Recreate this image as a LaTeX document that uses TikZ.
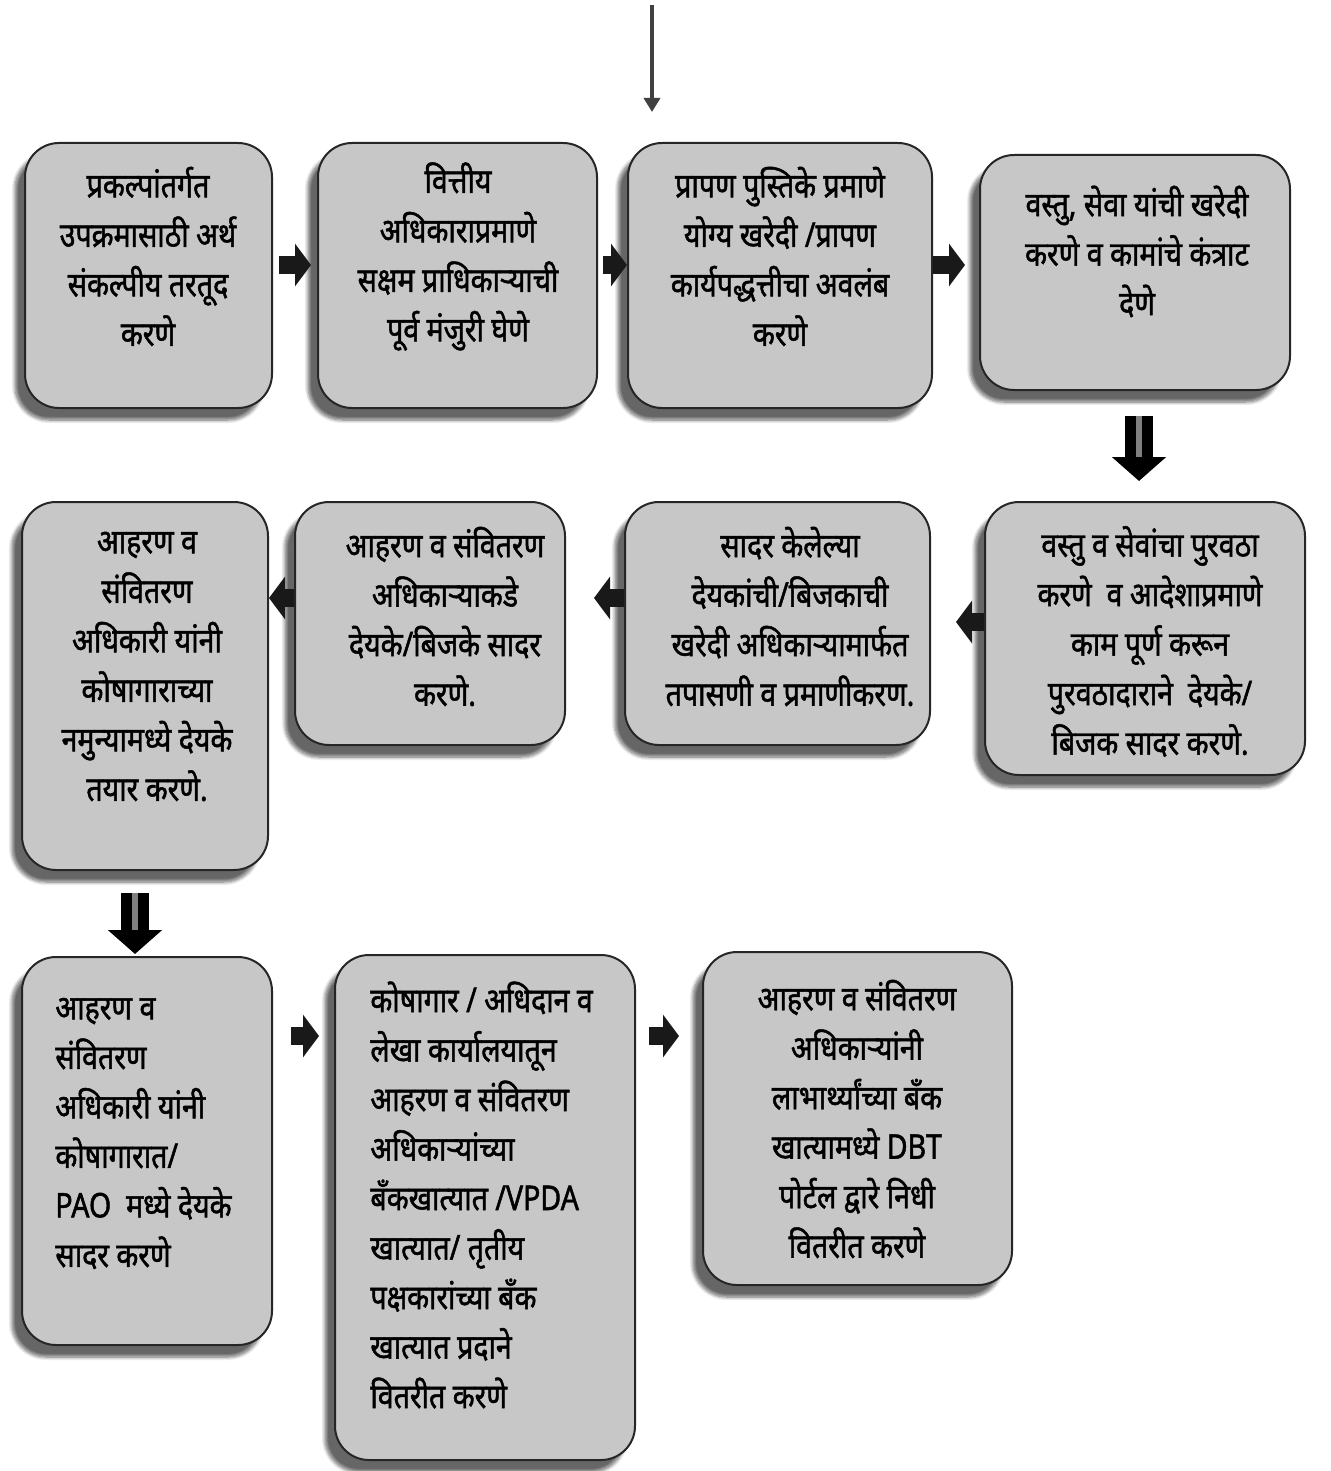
\documentclass[tikz,border=0pt]{standalone}
\usepackage{fontspec}
\newfontfamily\deva[Script=Devanagari,FakeStretch=0.84,FakeBold=1.4]{Noto Sans}
\usetikzlibrary{arrows.meta,shadows.blur}

\tikzset{
  stepbox/.style={draw=black!85, line width=1pt, fill=black!22, rounded corners=17pt, inner sep=0pt,
    blur shadow={shadow xshift=-5pt, shadow yshift=-6pt, shadow blur steps=8, shadow opacity=60}},
  steptext/.style={inner sep=0pt, align=center, font=\deva\fontsize{17}{24.75}\selectfont},
  harrow/.style={line width=9pt, draw=black!90, -{Triangle[width=21pt,length=8pt]}},
  varrow/.style={line width=5.5pt, draw=black, double=black!50, double distance=3pt, -{Triangle[width=26.5pt,length=12pt]}},
  inarrow/.style={line width=2pt, draw=black!75, -{Triangle[width=8pt,length=7pt]}}
}

\begin{document}
\begin{tikzpicture}[x=0.5pt, y=-0.5pt]
\useasboundingbox (0,0) rectangle (1330,1471);

\node[stepbox, minimum width=123.5pt, minimum height=132.5pt] (b1) at (148.5,275.5) {};
\node[stepbox, minimum width=139.5pt, minimum height=132.5pt] (b2) at (457.5,275.5) {};
\node[stepbox, minimum width=152pt, minimum height=132.5pt] (b3) at (780,275.5) {};
\node[stepbox, minimum width=155pt, minimum height=117.5pt] (b4) at (1135,272.5) {};
\node[stepbox, minimum width=160pt, minimum height=136.5pt] (b5) at (1145,638.5) {};
\node[stepbox, minimum width=152.5pt, minimum height=121.5pt] (b6) at (777.5,623.5) {};
\node[stepbox, minimum width=135pt, minimum height=121.5pt] (b7) at (430,623.5) {};
\node[stepbox, minimum width=123pt, minimum height=184pt] (b8) at (145,686) {};
\node[stepbox, minimum width=125pt, minimum height=194pt] (b9) at (147,1151) {};
\node[stepbox, minimum width=150pt, minimum height=252.5pt] (b10) at (485,1207.5) {};
\node[stepbox, minimum width=154.5pt, minimum height=166.5pt] (b11) at (857.5,1118.5) {};

\node[steptext] (t1) at (148,256.5) {प्रकल्पांतर्गत\\उपक्रमासाठी अर्थ\\संकल्पीय तरतूद\\करणे};
\node[steptext] (t2) at (458,256.5) {वित्तीय\\अधिकाराप्रमाणे\\सक्षम प्राधिकाऱ्याची\\पूर्व मंजुरी घेणे};
\node[steptext] (t3) at (780,256.5) {प्रापण पुस्तिके प्रमाणे\\योग्य खरेदी /प्रापण\\कार्यपद्धत्तीचा अवलंब\\करणे};
\node[steptext] (t4) at (1137,251.5) {वस्तु, सेवा यांची खरेदी\\करणे व कामांचे कंत्राट\\देणे};
\node[steptext] (t5) at (1150,641.5) {वस्तु व सेवांचा पुरवठा\\करणे\ \ व आदेशाप्रमाणे\\काम पूर्ण करून\\पुरवठादाराने\ \ देयके/\\बिजक सादर करणे.};
\node[steptext] (t6) at (790,616.5) {सादर केलेल्या\\देयकांची/बिजकाची\\खरेदी अधिकाऱ्यामार्फत\\तपासणी व प्रमाणीकरण.};
\node[steptext] (t7) at (445,616.5) {आहरण व संवितरण\\अधिकाऱ्याकडे\\देयके/बिजके सादर\\करणे.};
\node[steptext] (t8) at (147,666.5) {आहरण व\\संवितरण\\अधिकारी यांनी\\कोषागाराच्या\\नमुन्यामध्ये देयके\\तयार करणे.};
\node[steptext, align=left, anchor=west] (t9) at (55,1133.5) {आहरण व\\संवितरण\\अधिकारी यांनी\\कोषागारात/\\PAO\ \ मध्ये देयके\\सादर करणे};
\node[steptext, align=left, anchor=west] (t10) at (370,1195) {कोषागार / अधिदान व\\लेखा कार्यालयातून\\आहरण व संवितरण\\अधिकाऱ्यांच्या\\बँकखात्यात /VPDA\\खात्यात/ तृतीय\\पक्षकारांच्या बँक\\खात्यात प्रदाने\\वितरीत करणे};
\node[steptext] (t11) at (857,1119) {आहरण व संवितरण\\अधिकाऱ्यांनी\\लाभार्थ्यांच्या बँक\\खात्यामध्ये DBT\\पोर्टल द्वारे निधी\\वितरीत करणे};

\coordinate (topin) at (652,5);
\coordinate (topout) at (652,112);
\coordinate (r1) at (0,265);
\coordinate (r2a) at (0,622);
\coordinate (r2b) at (0,598);
\coordinate (r3) at (0,1036);

\draw[inarrow] (topin) -- (topout);
\draw[harrow, shorten <=3pt, shorten >=3pt] (b1.east |- r1) -- (b2.west |- r1);
\draw[harrow, shorten <=2.5pt] (b2.east |- r1) -- (b3.west |- r1);
\draw[harrow, shorten >=7pt] (b3.east |- r1) -- (b4.west |- r1);
\draw[varrow, shorten <=12.5pt, shorten >=10pt] ([xshift=2pt]b4.south) -- ([xshift=2pt]b4.south |- b5.north);
\draw[harrow, shorten >=12.5pt] (b5.west |- r2a) -- (b6.east |- r2a);
\draw[harrow, shorten >=14pt] (b6.west |- r2b) -- (b7.east |- r2b);
\draw[harrow] (b7.west |- r2b) -- (b8.east |- r2b);
\draw[varrow, shorten <=11pt, shorten >=1pt] ([xshift=-5pt]b8.south) -- ([xshift=-5pt]b8.south |- b9.north);
\draw[harrow, shorten <=9pt, shorten >=7.5pt] (b9.east |- r3) -- (b10.west |- r3);
\draw[harrow, shorten <=6.5pt, shorten >=11.5pt] (b10.east |- r3) -- (b11.west |- r3);
\end{tikzpicture}
\end{document}
